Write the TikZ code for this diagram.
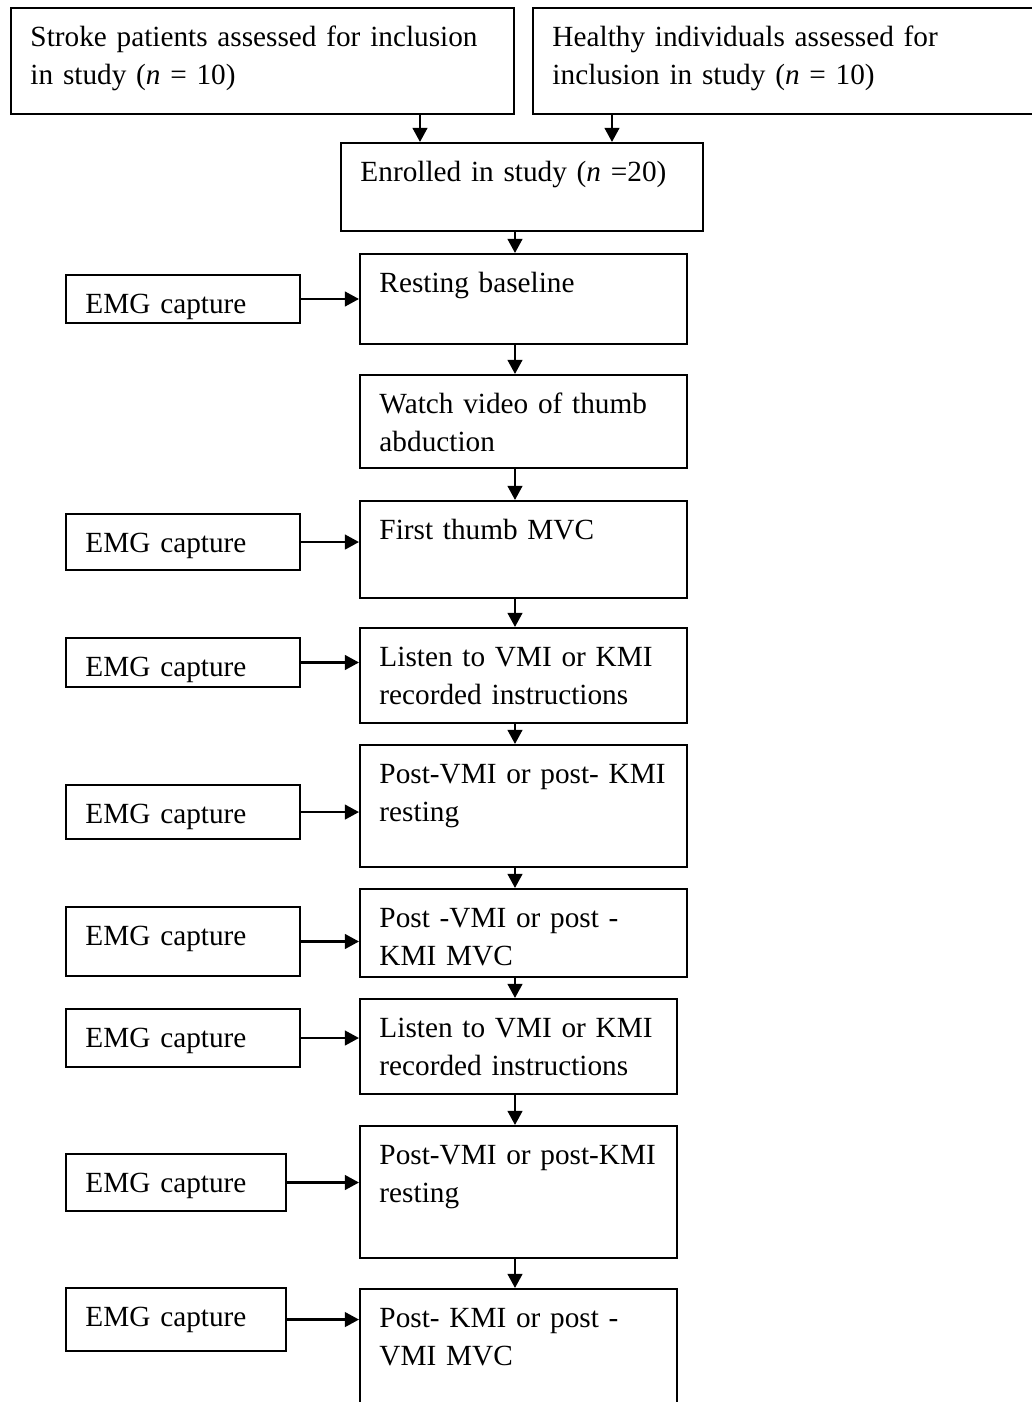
\documentclass[tikz,border=0pt]{standalone}
\usepackage{fontspec}
\setmainfont{Liberation Serif}[WordSpace=0.8]
\usetikzlibrary{arrows.meta}

\begin{document}
\begin{tikzpicture}[x=0.41pt, y=-0.41pt, >={Triangle[length=5.8pt,width=6pt]},
    stepbox/.style={draw, line width=0.8pt, anchor=north west, inner xsep=8pt, inner ysep=0pt,
        align=left, text height=15.6pt, font=\fontsize{12pt}{15.8pt}\selectfont},
    flow/.style={->, line width=1pt}]
    \useasboundingbox (0,0) rectangle (1032,1402);
    \coordinate (ina) at (420,0);
    \coordinate (inb) at (612,0);
    \coordinate (spine) at (515,0);

    % recruitment
    \node[stepbox, text width=190.2pt, text depth=27.9pt] (stroke) at (10,7) {Stroke patients assessed for inclusion\\in study (\textit{n} = 10)};
    \node[stepbox, text width=196.4pt, text depth=27.9pt] (healthy) at (532,7) {Healthy individuals assessed for\\inclusion in study (\textit{n} = 10)};
    \node[stepbox, text width=132.4pt, text depth=20.5pt] (enrol) at (340,142) {Enrolled in study (\textit{n} =20)};

    % protocol steps
    \node[stepbox, text width=118.1pt, text depth=21.3pt] (base) at (359,253) {Resting baseline};
    \node[stepbox, text width=118.1pt, text depth=22.6pt] (video) at (359,374) {Watch video of thumb\\abduction};
    \node[stepbox, text width=118.1pt, text depth=24.2pt] (mvc1) at (359,500) {First thumb MVC};
    \node[stepbox, text width=118.1pt, text depth=23.4pt] (listen1) at (359,627) {Listen to VMI or KMI\\recorded instructions};
    \node[stepbox, text width=118.1pt, text depth=34.4pt] (rest1) at (359,744) {Post-VMI or post-~KMI\\resting};
    \node[stepbox, text width=118.1pt, text depth=20.5pt] (mvc2) at (359,888) {Post -VMI or post -\\KMI MVC};
    \node[stepbox, text width=114pt, text depth=23.4pt] (listen2) at (359,998) {Listen to VMI or KMI\\recorded instructions};
    \node[stepbox, text width=114pt, text depth=38.5pt] (rest2) at (359,1125) {\mbox{Post-VMI or post-KMI}\\resting};
    \node[stepbox, text width=114pt, text depth=38.5pt] (mvc3) at (359,1288) {Post- KMI or post -\\VMI MVC};

    % EMG captures
    \node[stepbox, text width=79.9pt, text depth=4.1pt] (emg1) at (65,274) {EMG capture};
    \node[stepbox, text width=79.9pt, text depth=7.4pt] (emg2) at (65,513) {EMG capture};
    \node[stepbox, text width=79.9pt, text depth=4.5pt] (emg3) at (65,637) {EMG capture};
    \node[stepbox, text width=79.9pt, text depth=6.6pt] (emg4) at (65,784) {EMG capture};
    \node[stepbox, text width=79.9pt, text depth=12.7pt] (emg5) at (65,906) {EMG capture};
    \node[stepbox, text width=79.9pt, text depth=8.2pt] (emg6) at (65,1008) {EMG capture};
    \node[stepbox, text width=74.2pt, text depth=7.8pt] (emg7) at (65,1153) {EMG capture};
    \node[stepbox, text width=74.2pt, text depth=10.3pt] (emg8) at (65,1287) {EMG capture};

    \draw[flow] (stroke.south -| ina) -- (enrol.north -| ina);
    \draw[flow] (healthy.south -| inb) -- (enrol.north -| inb);
    \draw[flow] (enrol.south -| spine) -- (base.north -| spine);
    \draw[flow] (base.south -| spine) -- (video.north -| spine);
    \draw[flow] (video.south -| spine) -- (mvc1.north -| spine);
    \draw[flow] (mvc1.south -| spine) -- (listen1.north -| spine);
    \draw[flow] (listen1.south -| spine) -- (rest1.north -| spine);
    \draw[flow] (rest1.south -| spine) -- (mvc2.north -| spine);
    \draw[flow] (mvc2.south -| spine) -- (listen2.north -| spine);
    \draw[flow] (listen2.south -| spine) -- (rest2.north -| spine);
    \draw[flow] (rest2.south -| spine) -- (mvc3.north -| spine);

    \draw[flow] (emg1.east) -- (emg1.east -| base.west);
    \draw[flow] (emg2.east) -- (emg2.east -| mvc1.west);
    \draw[flow] (emg3.east) -- (emg3.east -| listen1.west);
    \draw[flow] (emg4.east) -- (emg4.east -| rest1.west);
    \draw[flow] (emg5.east) -- (emg5.east -| mvc2.west);
    \draw[flow] (emg6.east) -- (emg6.east -| listen2.west);
    \draw[flow] (emg7.east) -- (emg7.east -| rest2.west);
    \draw[flow] (emg8.east) -- (emg8.east -| mvc3.west);
\end{tikzpicture}
\end{document}
